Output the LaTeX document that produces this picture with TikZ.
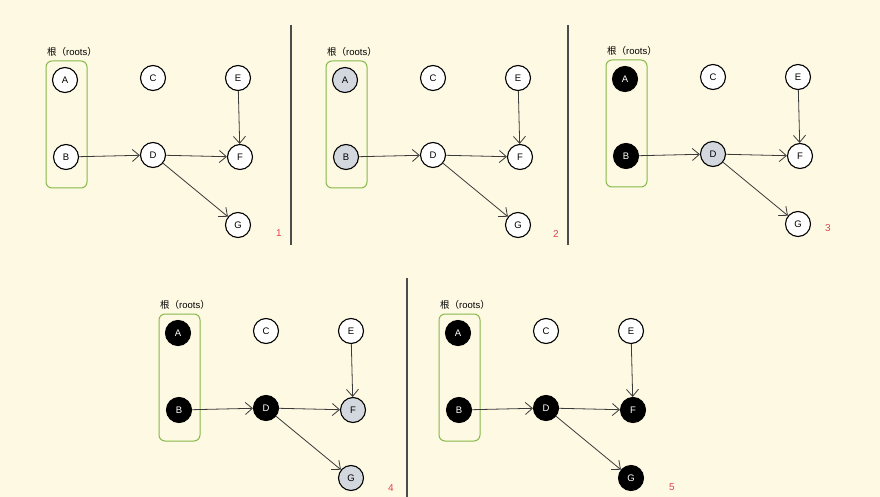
\documentclass[tikz,border=0pt]{standalone}
\usepackage{fontspec}
\setmainfont{Liberation Sans}
\newfontfamily\cjk{Noto Sans CJK SC}
\usetikzlibrary{arrows.meta}
\definecolor{bg}{HTML}{FEF9E3}
\definecolor{greyfill}{HTML}{D3D7DE}
\definecolor{boxgreen}{HTML}{86BA4A}
\definecolor{numred}{HTML}{E0444E}
\definecolor{edgecol}{HTML}{3A3A3A}
\tikzset{
  gnode/.style={circle,draw=black,line width=1.1pt,minimum size=25pt,inner sep=0pt,font=\fontsize{9.5}{9.5}\selectfont},
  wn/.style={gnode,fill=white,text=black},
  gn/.style={gnode,fill=greyfill,text=black},
  bn/.style={gnode,fill=black,text=white},
  rootbox/.style={draw=boxgreen,line width=1pt,rounded corners=6pt},
  rootlabel/.style={font=\fontsize{9.5}{9.5}\selectfont},
  numlabel/.style={text=numred,font=\fontsize{10}{10}\selectfont},
  edge/.style={draw=edgecol,line width=0.8pt,-{Straight Barb[length=7pt,width=12pt,line width=0.8pt]}},
  divider/.style={draw=black!70,line width=1.2pt}
}
\newcommand\drawpanel[8]{%
  \begin{scope}[shift={(#2,#3)}]
    \node[rootlabel] (#1lab) at (72,52) {{\cjk 根（}roots{\cjk ）}};
    \node[rootbox,minimum width=41pt,minimum height=127pt] (#1box) at (66.5,124.5) {};
    \node[#4] (#1A) at (65,80) {A};
    \node[wn] (#1C) at (153,78) {C};
    \node[wn] (#1E) at (238,78) {E};
    \node[#5] (#1B) at (66,157) {B};
    \node[#6] (#1D) at (153,155) {D};
    \node[#7] (#1F) at (240,157) {F};
    \node[#8] (#1G) at (238,225) {G};
    \draw[edge] (#1B) -- (#1D);
    \draw[edge] (#1D) -- (#1F);
    \draw[edge] (#1D) -- (#1G);
    \draw[edge] (#1E) -- (#1F);
  \end{scope}}
\begin{document}
\begin{tikzpicture}[x=1pt,y=-1pt]
  \fill[bg] (0,0) rectangle (880,497);
  \useasboundingbox (0,0) rectangle (880,497);
  \drawpanel{pa}{0}{0}{wn}{wn}{wn}{wn}{wn}
  \drawpanel{pb}{280}{0}{gn}{gn}{wn}{wn}{wn}
  \drawpanel{pc}{560}{-1}{bn}{bn}{gn}{wn}{wn}
  \drawpanel{pd}{113}{253}{bn}{bn}{bn}{gn}{gn}
  \drawpanel{pe}{393}{253}{bn}{bn}{bn}{bn}{bn}
  \node[numlabel] (n1) at (279,233) {1};
  \node[numlabel] (n2) at (556,234) {2};
  \node[numlabel] (n3) at (828,228) {3};
  \node[numlabel] (n4) at (391,488) {4};
  \node[numlabel] (n5) at (672,487) {5};
  \coordinate (l1t) at (291,25); \coordinate (l1b) at (291,245);
  \coordinate (l2t) at (568,25); \coordinate (l2b) at (568,245);
  \coordinate (l3t) at (407,278); \coordinate (l3b) at (407,497);
  \draw[divider] (l1t) -- (l1b);
  \draw[divider] (l2t) -- (l2b);
  \draw[divider] (l3t) -- (l3b);
\end{tikzpicture}
\end{document}
